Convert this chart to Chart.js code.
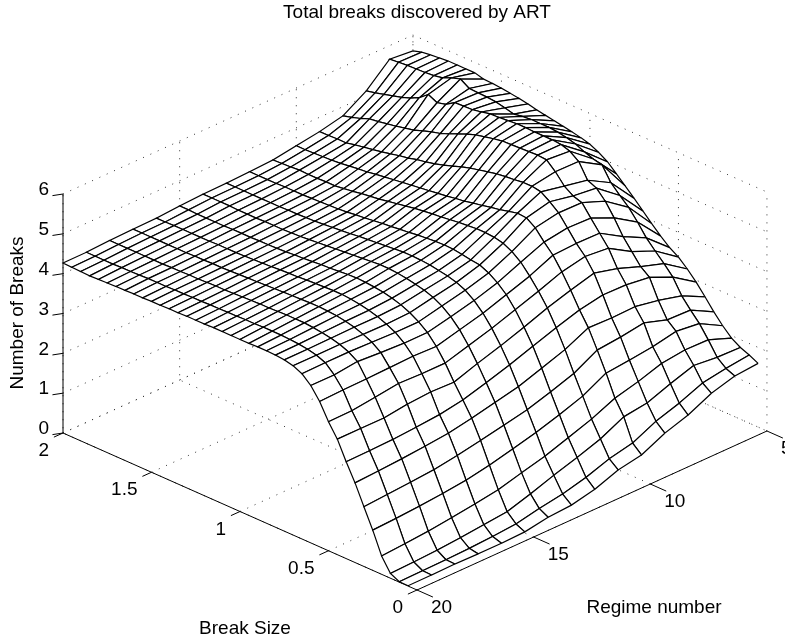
<!DOCTYPE html>
<html>
<head>
<meta charset="utf-8">
<title>Total breaks discovered by ART</title>
<script src="https://cdn.jsdelivr.net/npm/chart.js@4"></script>
<style>
  html, body { margin: 0; padding: 0; background: #fff; }
  canvas { display: block; }
</style>
</head>
<body>
<canvas id="surfaceChart" width="785" height="643"></canvas>
<script>
// values
const breakSizes = [0.05,0.1,0.15,0.2,0.25,0.3,0.35,0.4,0.45,0.5,0.55,0.6,0.65,0.7,0.75,0.8,0.85,0.9,0.95,1,
  1.05,1.1,1.15,1.2,1.25,1.3,1.35,1.4,1.45,1.5,1.55,1.6,1.65,1.7,1.75,1.8,1.85,1.9,1.95,2];
const regimes = [5,6,7,8,9,10,11,12,13,14,15,16,17,18,19,20];

const breaksRegime5 = [1.6,1.71,1.8,1.94,2.15,2.4,2.68,2.95,3.18,3.38,3.52,3.71,3.92,4.14,4.36,4.57,4.78,4.98,5.12,5.23,
  5.29,5.34,5.38,5.42,5.46,5.5,5.55,5.59,5.62,5.65,5.67,5.68,5.74,5.74,5.74,5.74,5.72,5.7,5.67,5.6];
const breaksRegime6 = [1.55,1.64,1.82,2.16,2.47,2.71,2.97,3.34,3.58,3.8,4.03,4.33,4.6,4.8,5.02,5.37,5.42,5.5,5.6,5.66,
  5.7,5.72,5.72,5.72,5.7,5.66,5.72,5.77,5.79,5.8,5.81,5.95,5.88,5.78,5.74,5.72,5.71,5.7,5.68,5.66];
const breaksRegime7 = [1.38,1.54,1.88,2.17,2.54,2.73,3.12,3.6,3.77,4.05,4.33,4.7,5.02,5.25,5.35,5.72,5.88,5.95,5.97,5.97,
  5.97,5.98,5.98,5.96,5.94,5.93,5.88,5.84,5.83,5.82,5.68,5.62,5.73,5.55,5.44,5.36,5.3,5.24,5.18,5.13];
const breaksRegime8 = [1.1,1.3,1.69,2.1,2.42,2.92,3.23,3.68,3.99,4.4,4.68,4.96,5.25,5.32,5.47,5.73,5.93,5.95,5.94,5.93,
  5.92,5.91,5.87,5.82,5.77,5.69,5.6,5.5,5.41,5.35,5.28,5.2,5.15,5.1,5.06,5.02,4.99,4.9,4.83,4.77];
const breaksRegime9 = [0.91,1.11,1.47,1.91,2.35,2.83,3.21,3.69,4.14,4.46,4.69,4.98,5.26,5.44,5.59,5.63,5.63,5.6,5.58,5.55,
  5.5,5.45,5.4,5.33,5.25,5.18,5.11,5.06,5.02,4.96,4.92,4.87,4.82,4.78,4.74,4.7,4.65,4.65,4.64,4.64];
const breaksRegime10 = [0.63,0.83,1.39,1.76,2.29,2.77,3.23,3.58,3.98,4.34,4.66,4.89,5.15,5.3,5.32,5.27,5.21,5.17,5.12,5.08,
  5.03,5,4.96,4.93,4.9,4.87,4.84,4.81,4.78,4.75,4.72,4.68,4.66,4.63,4.6,4.58,4.57,4.56,4.55,4.55];
const breaksRegime11 = [0.52,0.7,1.1,1.5,1.98,2.45,2.95,3.4,3.8,4.12,4.4,4.65,4.82,4.93,4.98,5,5,4.98,4.96,4.93,
  4.9,4.88,4.85,4.82,4.78,4.74,4.7,4.66,4.63,4.6,4.56,4.53,4.5,4.5,4.49,4.49,4.5,4.48,4.47,4.46];
const breaksRegime12 = [0.3,0.5,0.9,1.3,1.78,2.25,2.75,3.2,3.58,3.92,4.2,4.4,4.55,4.65,4.68,4.72,4.75,4.76,4.75,4.73,
  4.71,4.68,4.66,4.63,4.61,4.58,4.55,4.53,4.5,4.48,4.47,4.46,4.45,4.44,4.44,4.44,4.43,4.43,4.43,4.43];
const breaksRegime13 = [0.17,0.35,0.72,1.1,1.6,2.07,2.55,3,3.38,3.72,4,4.22,4.38,4.48,4.54,4.58,4.62,4.64,4.65,4.65,
  4.63,4.61,4.59,4.57,4.55,4.52,4.5,4.48,4.46,4.44,4.43,4.42,4.42,4.41,4.41,4.41,4.41,4.41,4.41,4.41];
const breaksRegime14 = [0.13,0.25,0.52,0.95,1.45,1.95,2.42,2.82,3.2,3.55,3.85,4.08,4.25,4.37,4.45,4.5,4.55,4.58,4.6,4.6,
  4.58,4.56,4.54,4.52,4.5,4.48,4.46,4.44,4.42,4.41,4.4,4.4,4.4,4.39,4.39,4.39,4.4,4.4,4.4,4.4];
const breaksRegime15 = [0.03,0.13,0.34,0.79,1.31,1.83,2.29,2.65,3,3.38,3.7,3.95,4.12,4.25,4.35,4.42,4.47,4.5,4.52,4.53,
  4.52,4.5,4.48,4.47,4.45,4.43,4.42,4.4,4.39,4.38,4.38,4.37,4.37,4.37,4.36,4.36,4.36,4.36,4.37,4.37];
const breaksRegime16 = [0.01,0.08,0.28,0.7,1.2,1.72,2.18,2.55,3.02,3.38,3.72,3.95,4.12,4.23,4.32,4.38,4.43,4.46,4.48,4.48,
  4.47,4.46,4.45,4.43,4.42,4.41,4.39,4.38,4.37,4.36,4.35,4.35,4.35,4.34,4.34,4.34,4.34,4.34,4.33,4.33];
const breaksRegime17 = [0.01,0.05,0.22,0.62,1.13,1.63,2.12,2.5,2.98,3.4,3.7,3.98,4.14,4.24,4.32,4.37,4.41,4.43,4.44,4.44,
  4.43,4.42,4.41,4.4,4.39,4.38,4.37,4.36,4.35,4.34,4.34,4.33,4.33,4.32,4.32,4.32,4.32,4.32,4.32,4.32];
const breaksRegime18 = [0.02,0.03,0.17,0.55,1.08,1.58,2.07,2.46,2.9,3.32,3.68,4.02,4.16,4.25,4.31,4.35,4.38,4.4,4.4,4.4,
  4.39,4.38,4.38,4.37,4.36,4.35,4.34,4.34,4.33,4.32,4.32,4.31,4.31,4.3,4.3,4.3,4.3,4.3,4.3,4.3];
const breaksRegime19 = [0.01,0.02,0.14,0.5,1.04,1.54,2.03,2.44,2.9,3.25,3.67,3.95,4.16,4.25,4.3,4.33,4.35,4.36,4.36,4.36,
  4.35,4.35,4.34,4.34,4.33,4.33,4.32,4.32,4.31,4.31,4.3,4.3,4.3,4.29,4.28,4.28,4.27,4.27,4.27,4.27];
const breaksRegime20 = [0.01,0.01,0.12,0.46,1.01,1.5,2,2.43,2.9,3.24,3.65,3.95,4.15,4.25,4.3,4.32,4.33,4.33,4.32,4.32,
  4.32,4.32,4.32,4.31,4.31,4.31,4.3,4.3,4.29,4.29,4.28,4.28,4.27,4.27,4.26,4.25,4.24,4.25,4.26,4.27];

const surface = [breaksRegime5, breaksRegime6, breaksRegime7, breaksRegime8, breaksRegime9, breaksRegime10,
  breaksRegime11, breaksRegime12, breaksRegime13, breaksRegime14, breaksRegime15, breaksRegime16,
  breaksRegime17, breaksRegime18, breaksRegime19, breaksRegime20];

const sizeTicks = [0, 0.5, 1, 1.5, 2];
const regimeTicks = [5, 10, 15, 20];
const breakTicks = [0, 1, 2, 3, 4, 5, 6];

// orthographic view of the box, matlab style. result is in the units of the hidden x/y scales
function project(size, regime, breaks) {
  return {
    x: 417 - 177 * size + 23.33 * (20 - regime),
    y: 590 - 78.5 * size - 10.6 * (20 - regime) - 39.83 * breaks
  };
}

function path(points, extra) {
  return Object.assign({
    data: points,
    showLine: true,
    pointRadius: 0,
    borderColor: '#000',
    borderWidth: 1,
    fill: false
  }, extra);
}

const dotted = { borderDash: [1, 7], borderColor: '#333' };

// chart.js paints the last dataset first, so build back to front and reverse at the end
const painted = [];

breakTicks.forEach(b => {
  painted.push(path([project(2, 20, b), project(2, 5, b), project(0, 5, b)], dotted));
});
regimeTicks.forEach(r => {
  painted.push(path([project(0, r, 0), project(2, r, 0), project(2, r, 6)], dotted));
});
sizeTicks.forEach(s => {
  painted.push(path([project(s, 20, 0), project(s, 5, 0), project(s, 5, 6)], dotted));
});

// axes and their tick marks
painted.push(path([project(2, 20, 0), project(2, 20, 6)]));
painted.push(path([project(2, 20, 0), project(0, 20, 0), project(0, 5, 0)]));
breakTicks.forEach(b => {
  painted.push(path([project(2, 20, b), project(2.02, 20.3, b)]));
});
sizeTicks.forEach(s => {
  painted.push(path([project(s, 20, 0), project(s, 20.39, 0)]));
});
regimeTicks.forEach(r => {
  painted.push(path([project(0, r, 0), project(-0.09, r, 0)]));
});

// surface cells, far corner first
for (let j = breakSizes.length - 2; j >= 0; j--) {
  for (let i = 0; i < regimes.length - 1; i++) {
    const corners = [
      project(breakSizes[j], regimes[i], surface[i][j]),
      project(breakSizes[j + 1], regimes[i], surface[i][j + 1]),
      project(breakSizes[j + 1], regimes[i + 1], surface[i + 1][j + 1]),
      project(breakSizes[j], regimes[i + 1], surface[i + 1][j]),
      project(breakSizes[j], regimes[i], surface[i][j])
    ];
    painted.push(path(corners, { fill: 'shape', backgroundColor: '#fff', borderWidth: 1.2 }));
  }
}

const labelFont = '19px "Liberation Sans", Arial, sans-serif';

function tickLabel(text, p, dx, dy, align) {
  return { text: String(text), x: p.x + dx, y: p.y + dy, align: align };
}

const tickLabels = [
  ...breakTicks.map(b => tickLabel(b, project(2, 20, b), -14, -4, 'right')),
  ...sizeTicks.map(s => tickLabel(s, project(s, 20, 0), -14, 18, 'right')),
  ...regimeTicks.map(r => tickLabel(r, project(0, r, 0), 14, 18, 'left'))
];

const textPlugin = {
  id: 'surfaceText',
  afterDatasetsDraw(chart) {
    const { ctx, scales } = chart;
    ctx.save();
    ctx.fillStyle = '#000';
    ctx.font = labelFont;
    ctx.textBaseline = 'middle';
    tickLabels.forEach(l => {
      ctx.textAlign = l.align;
      ctx.fillText(l.text, scales.x.getPixelForValue(l.x), scales.y.getPixelForValue(l.y));
    });
    ctx.textAlign = 'center';
    ctx.fillText('Total breaks discovered by ART', 417, 13);
    ctx.fillText('Break Size', 245, 629);
    ctx.fillText('Regime number', 654, 608);
    ctx.translate(18, 313);
    ctx.rotate(-Math.PI / 2);
    ctx.fillText('Number of Breaks', 0, 0);
    ctx.restore();
  }
};

new Chart(document.getElementById('surfaceChart').getContext('2d'), {
  type: 'scatter',
  data: { datasets: painted.reverse() },
  options: {
    responsive: false,
    animation: false,
    events: [],
    layout: { padding: 0 },
    elements: { line: { tension: 0, borderCapStyle: 'butt', borderJoinStyle: 'miter' } },
    plugins: { legend: { display: false }, title: { display: false }, tooltip: { enabled: false } },
    scales: {
      x: { type: 'linear', display: false, min: 0, max: 785 },
      y: { type: 'linear', display: false, min: 0, max: 643, reverse: true }
    }
  },
  plugins: [textPlugin]
});
</script>
</body>
</html>
